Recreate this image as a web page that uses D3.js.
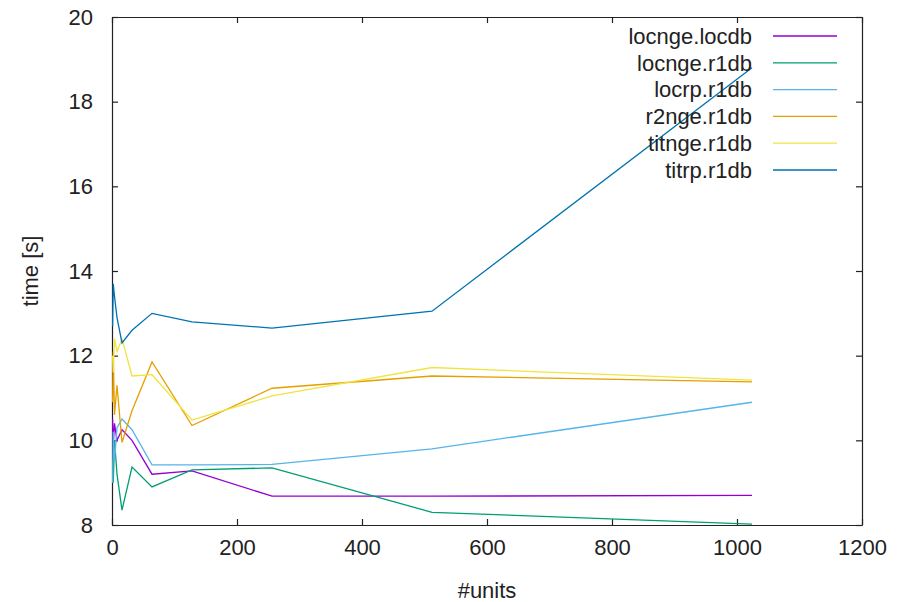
<!DOCTYPE html>
<html>
<head>
<meta charset="utf-8">
<script src="https://cdn.jsdelivr.net/npm/d3@7"></script>
<style>
  body { margin: 0; background: #fff; }
  text { font-family: "Liberation Sans", Arial, sans-serif; fill: #222; }
</style>
</head>
<body>
<div id="chart"></div>
<script>
// number of units on the x axis
const units = [1, 2, 4, 8, 16, 32, 64, 128, 256, 512, 1024];

// time in seconds per configuration
const locngeLocdb = [10.5, 9.9, 10.4, 10.0, 10.25, 10.0, 9.2, 9.28, 8.68, 8.68, 8.7];
const locngeR1db  = [9.5, 9.0, 10.0, 9.2, 8.35, 9.37, 8.9, 9.3, 9.35, 8.3, 8.02];
const locrpR1db   = [9.0, 10.2, 9.5, 10.3, 10.5, 10.25, 9.42, 9.42, 9.43, 9.8, 10.9];
const r2ngeR1db   = [10.9, 12.1, 10.6, 11.3, 9.95, 10.7, 11.85, 10.35, 11.23, 11.52, 11.38];
const titngeR1db  = [12.0, 11.6, 12.4, 12.1, 12.4, 11.52, 11.55, 10.48, 11.05, 11.72, 11.42];
const titrpR1db   = [12.7, 13.7, 13.4, 12.9, 12.3, 12.6, 13.0, 12.8, 12.65, 13.05, 18.8];

const seriesNames = ["locnge.locdb", "locnge.r1db", "locrp.r1db", "r2nge.r1db", "titnge.r1db", "titrp.r1db"];
const seriesValues = [locngeLocdb, locngeR1db, locrpR1db, r2ngeR1db, titngeR1db, titrpR1db];
const colors = ["#9400d3", "#009e73", "#56b4e9", "#e69f00", "#f0e442", "#0072b2"];

const xTicks = [0, 200, 400, 600, 800, 1000, 1200];
const yTicks = [8, 10, 12, 14, 16, 18, 20];

const width = 901;
const height = 602;
const margin = { top: 17, left: 112, right: 39, bottom: 77 };

const svg = d3.select("#chart")
    .append("svg")
    .attr("width", width)
    .attr("height", height);

const xScale = d3.scaleLinear()
    .domain([0, 1200])
    .range([margin.left, width - margin.right]);

const yScale = d3.scaleLinear()
    .domain([8, 20])
    .range([height - margin.bottom, margin.top]);

// axes on all four sides, ticks pointing inwards
const xAxisBottom = svg.append("g")
    .attr("transform", `translate(0,${height - margin.bottom})`)
    .call(d3.axisBottom(xScale).tickValues(xTicks).tickFormat(d3.format("d"))
        .tickSizeInner(-6).tickSizeOuter(0).tickPadding(14));

const xAxisTop = svg.append("g")
    .attr("transform", `translate(0,${margin.top})`)
    .call(d3.axisTop(xScale).tickValues(xTicks).tickSizeInner(-6).tickSizeOuter(0).tickFormat(""));

const yAxisLeft = svg.append("g")
    .attr("transform", `translate(${margin.left},0)`)
    .call(d3.axisLeft(yScale).tickValues(yTicks).tickFormat(d3.format("d"))
        .tickSizeInner(-6).tickSizeOuter(0).tickPadding(19));

const yAxisRight = svg.append("g")
    .attr("transform", `translate(${width - margin.right},0)`)
    .call(d3.axisRight(yScale).tickValues(yTicks).tickSizeInner(-6).tickSizeOuter(0).tickFormat(""));

svg.selectAll(".domain, .tick line").attr("stroke", "#222").attr("stroke-width", 1.2);
svg.selectAll(".tick text")
    .style("font-family", "'Liberation Sans', Arial, sans-serif")
    .style("font-size", "22px")
    .attr("fill", "#222");

// the lines
const line = d3.line()
    .x((d, i) => xScale(units[i]))
    .y(d => yScale(d));

svg.selectAll(".series")
    .data(seriesValues)
    .enter()
    .append("path")
    .attr("class", "series")
    .attr("d", d => line(d))
    .attr("fill", "none")
    .attr("stroke", (d, i) => colors[i])
    .attr("stroke-width", 1.3);

// legend, top right inside the frame
const legend = svg.append("g");
seriesNames.forEach((name, i) => {
    const y = 36 + i * 26.8;
    legend.append("text")
        .attr("x", 752)
        .attr("y", y)
        .attr("dy", "0.35em")
        .attr("text-anchor", "end")
        .style("font-size", "22px")
        .text(name);
    legend.append("line")
        .attr("x1", 773)
        .attr("x2", 837)
        .attr("y1", y)
        .attr("y2", y)
        .attr("stroke", colors[i])
        .attr("stroke-width", 1.3);
});

// axis labels
svg.append("text")
    .attr("x", (margin.left + width - margin.right) / 2)
    .attr("y", 590)
    .attr("dy", "0.35em")
    .attr("text-anchor", "middle")
    .style("font-size", "22px")
    .text("#units");

svg.append("text")
    .attr("transform", "rotate(-90)")
    .attr("x", -((margin.top + height - margin.bottom) / 2))
    .attr("y", 30)
    .attr("dy", "0.35em")
    .attr("text-anchor", "middle")
    .style("font-size", "22px")
    .text("time [s]");
</script>
</body>
</html>
